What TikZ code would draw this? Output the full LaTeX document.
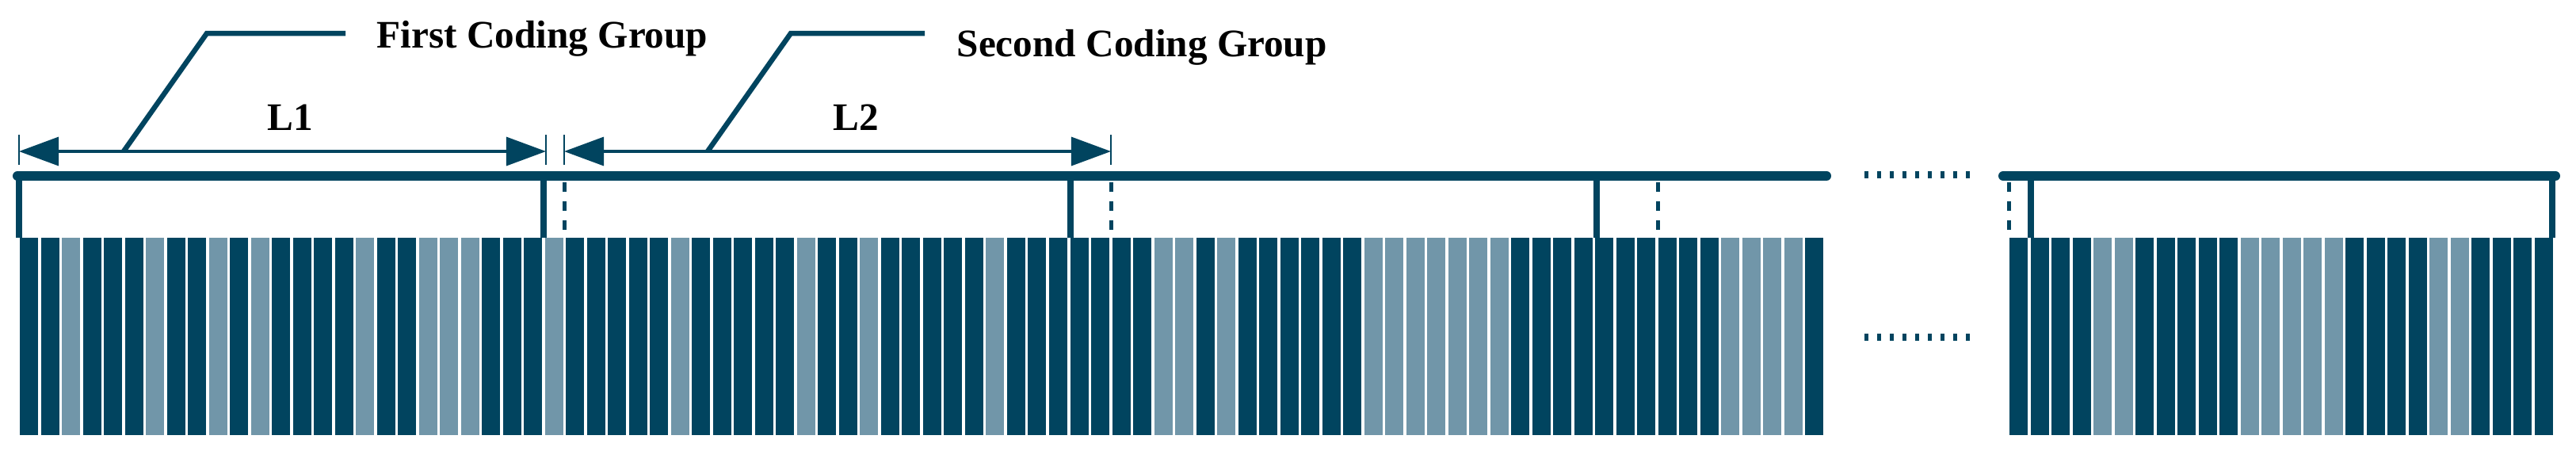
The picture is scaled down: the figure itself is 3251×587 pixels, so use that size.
\documentclass[tikz,border=0pt]{standalone}
\usepackage{fontspec}
\setmainfont{Liberation Serif}
\usetikzlibrary{arrows.meta}
\definecolor{navy}{HTML}{01445F}
\definecolor{steel}{HTML}{7196A9}
\begin{document}
\begin{tikzpicture}[x=0.01cm,y=-0.01cm,
  frameline/.style={draw=navy,line width=0.08cm},
  topline/.style={draw=navy,line width=0.12cm,line cap=round},
  dashsep/.style={draw=navy,line width=0.05cm,dash pattern=on 0.12cm off 0.12cm},
  dimline/.style={draw=navy,line width=0.033cm,{Triangle[length=0.5cm,width=0.36cm]}-{Triangle[length=0.5cm,width=0.36cm]}},
  ticks/.style={draw=navy,line width=0.025cm},
  leader/.style={draw=navy,line width=0.065cm},
  lbl/.style={font=\bfseries\fontsize{14}{16}\selectfont, inner sep=0pt, anchor=base west},
  dotmark/.style={fill=navy},
]
\useasboundingbox (0,0) rectangle (3251,587);

% stripes, part 1
\foreach \c [count=\i from 0] in {navy,navy,steel,navy,navy,navy,steel,navy,navy,steel,
  navy,steel,navy,navy,navy,navy,steel,navy,navy,steel,
  steel,steel,navy,navy,navy,steel,navy,navy,navy,navy,
  navy,steel,navy,navy,navy,navy,navy,steel,navy,navy,
  steel,navy,navy,navy,navy,navy,steel,navy,navy,navy,
  navy,navy,navy,navy,steel,steel,navy,steel,navy,navy,
  navy,navy,navy,navy,steel,steel,steel,steel,steel,steel,
  steel,navy,navy,navy,navy,navy,navy,navy,navy,navy,
  navy,steel,steel,steel,steel,navy}
  \fill[fill=\c] ({25+26.51*\i},300) rectangle ({25+26.51*\i+23},549);
% stripes, part 2
\foreach \c [count=\i from 0] in {navy,navy,navy,navy,steel,steel,navy,navy,navy,navy,
  navy,steel,steel,steel,steel,steel,navy,navy,navy,navy,
  steel,steel,navy,navy,navy,navy}
  \fill[fill=\c] ({2536+26.5*\i},300) rectangle ({2536+26.5*\i+23},549);

% frame part 1
\draw[frameline] (24,222) -- (24,300);
\draw[frameline] (686,222) -- (686,300);
\draw[frameline] (1351,222) -- (1351,300);
\draw[frameline] (2015,222) -- (2015,300);
\draw[dashsep] (712,230) -- (712,300);
\draw[dashsep] (1402,230) -- (1402,300);
\draw[dashsep] (2092,230) -- (2092,300);
\draw[topline] (22,222) -- (2305,222);
% frame part 2
\draw[dashsep] (2535,230) -- (2535,300);
\draw[frameline] (2563,222) -- (2563,300);
\draw[frameline] (3221,222) -- (3221,300);
\draw[topline] (2528,222) -- (3225,222);

% dotted gaps
\foreach \k in {0,...,8} {
  \fill[dotmark] ({2355+16*\k-2.5},216) rectangle ++(5,9);
  \fill[dotmark] ({2355+16*\k-2.5},421) rectangle ++(5,9);
}

% dimension lines
\coordinate (a1) at (24,191);
\coordinate (b1) at (689,191);
\coordinate (a2) at (712,191);
\coordinate (b2) at (1402,191);
\draw[ticks] (24,170) -- (24,208);
\draw[ticks] (689,170) -- (689,208);
\draw[ticks] (712,170) -- (712,208);
\draw[ticks] (1402,170) -- (1402,208);
\draw[dimline] (a1) -- (b1);
\draw[dimline] (a2) -- (b2);

% labels
\node[lbl] (l1) at (337,164) {L1};
\node[lbl] (l2) at (1051,164) {L2};
\node[lbl] (fcg) at (475,60) {First Coding Group};
\node[lbl] (scg) at (1207,71) {Second Coding Group};

% leader lines
\coordinate (p1) at (156,191);
\coordinate (q1) at (261,42);
\coordinate (r1) at (436,42);
\coordinate (p2) at (893,191);
\coordinate (q2) at (998,42);
\coordinate (r2) at (1167,42);
\draw[leader] (p1) -- (q1) -- (r1);
\draw[leader] (p2) -- (q2) -- (r2);
\end{tikzpicture}
\end{document}
